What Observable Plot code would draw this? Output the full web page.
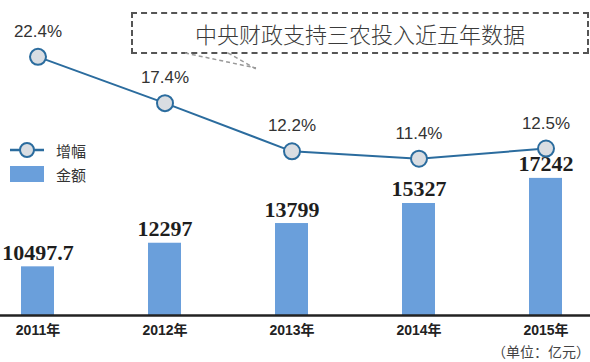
<!DOCTYPE html>
<html>
<head>
<meta charset="utf-8">
<script src="https://cdn.jsdelivr.net/npm/d3@7"></script>
<script src="https://cdn.jsdelivr.net/npm/@observablehq/plot@0.6"></script>
<style>
  html, body { margin: 0; padding: 0; background: #fff; }
  #wrap { position: relative; width: 590px; height: 362px; overflow: hidden; font-family: "Liberation Sans", Arial, sans-serif; }
  #chart { position: absolute; left: 0; top: 0; }
  #title { position: absolute; left: 131px; top: 12px; width: 454px; height: 38px;
    border: 2px dashed #555; box-sizing: content-box;
    font-family: "Noto Sans CJK SC", sans-serif; font-size: 22px; color: #3a3a3a;
    display: flex; align-items: center; justify-content: center; letter-spacing: 0px; font-weight: 300; }
  #tail { position: absolute; left: 180px; top: 50px; }
  #legend { position: absolute; left: 10px; top: 138px; font-family: "Noto Sans CJK SC", sans-serif; font-size: 15px; color: #333; }
  .li { display: flex; align-items: center; height: 24px; }
  .li span { margin-left: 12px; }
  #unit { position: absolute; right: 0px; top: 341px; font-family: "Noto Sans CJK SC", serif; font-size: 14px; color: #444; }
</style>
</head>
<body>
<div id="wrap">
  <div id="chart"></div>
  <div id="title">中央财政支持三农投入近五年数据</div>
  <svg id="tail" width="90" height="24"><g stroke="#999" stroke-width="1.5" stroke-dasharray="4,3" fill="none"><line x1="5" y1="3" x2="76" y2="18"/><line x1="48" y1="3" x2="78" y2="20"/></g></svg>
  <div id="legend">
    <div class="li"><svg width="34" height="20"><line x1="0" y1="10" x2="34" y2="10" stroke="#2b6c9e" stroke-width="2.5"/><circle cx="17" cy="10" r="7" fill="#d9dde2" stroke="#2b6c9e" stroke-width="2"/></svg><span>增幅</span></div>
    <div class="li"><svg width="34" height="20"><rect x="0" y="2" width="34" height="16" fill="#6a9fdb"/></svg><span>金额</span></div>
  </div>
  <div id="unit">（单位：亿元）</div>
</div>
<script>
const years = ["2011", "2012", "2013", "2014", "2015"];
const amounts = [10497.7, 12297, 13799, 15327, 17242];
const amountLabels = ["10497.7", "12297", "13799", "15327", "17242"];
const growth = [22.4, 17.4, 12.2, 11.4, 12.5];
const growthLabels = ["22.4%", "17.4%", "12.2%", "11.4%", "12.5%"];

const yMin = 6787, yMax = 30805;
// secondary scale: growth (%) mapped into the amount axis space
const growthToY = d3.scaleLinear().domain([0, 30]).range([10691, 31873]);

const data = years.map((year, i) => ({
  year,
  amount: amounts[i],
  amountLabel: amountLabels[i],
  growth: growth[i],
  growthY: growthToY(growth[i]),
  growthLabel: growthLabels[i]
}));

const chart = Plot.plot({
  width: 590,
  height: 362,
  marginTop: 0,
  marginBottom: 47,
  marginLeft: 0,
  marginRight: 0,
  style: { background: "transparent", overflow: "visible" },
  x: { domain: years, range: [0, 583], paddingInner: 0.74, paddingOuter: 0.165, label: null },
  y: { domain: [yMin, yMax], axis: null },
  marks: [
    Plot.barY(data, { x: "year", y1: () => yMin, y2: "amount", fill: "#6a9fdb" }),
    Plot.text(data, { x: "year", y: "amount", text: "amountLabel", dy: -7, lineAnchor: "bottom",
      fontFamily: "Liberation Serif", fontWeight: "bold", fontSize: 22, fill: "#1e1e1e" }),
    Plot.ruleY([yMin], { stroke: "#222", strokeWidth: 2.5 }),
    Plot.line(data, { x: "year", y: "growthY", stroke: "#2b6c9e", strokeWidth: 2 }),
    Plot.dot(data, { x: "year", y: "growthY", r: 8, fill: "#d9dde2", stroke: "#2b6c9e", strokeWidth: 2 }),
    Plot.text(data, { x: "year", y: "growthY", text: "growthLabel", dy: -20, lineAnchor: "bottom",
      fontFamily: "Liberation Sans", fontSize: 17, fill: "#333" }),
    Plot.axisX({ tickSize: 0, tickPadding: 10, tickFormat: d => d + "年", fontSize: 14, fontWeight: "bold",
      fontFamily: "Liberation Sans, Noto Sans CJK SC", fill: "#222", label: null })
  ]
});
document.getElementById("chart").appendChild(chart);
</script>
</body>
</html>
